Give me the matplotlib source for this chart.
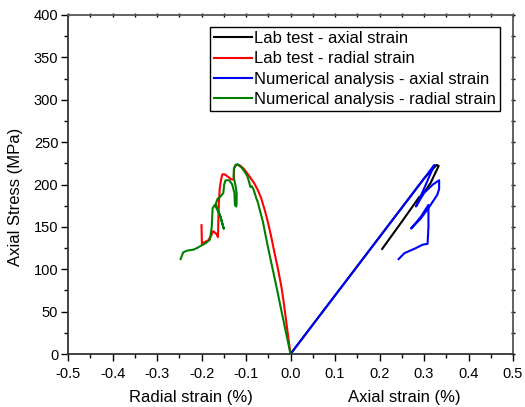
import numpy as np
import matplotlib
matplotlib.use("Agg")
import matplotlib.pyplot as plt
from matplotlib.ticker import MultipleLocator, FormatStrFormatter

plt.rcParams['font.family'] = ['Liberation Sans', 'DejaVu Sans']

# lab test - axial strain (%), stress (MPa)
lab_ax_x = [0, 0.10, 0.20, 0.30, 0.328, 0.333, 0.315, 0.297, 0.289, 0.250, 0.206]
lab_ax_y = [0, 69, 138, 207, 223, 222, 202, 188, 185, 156, 124]

# lab test - radial strain
lab_rad_x = [-0.200, -0.199, -0.197, -0.185, -0.178, -0.174, -0.167, -0.163, -0.162,
             -0.161, -0.159, -0.156, -0.153, -0.148, -0.140, -0.133, -0.127, -0.127,
             -0.122, -0.115, -0.110, -0.104, -0.097, -0.090, -0.081, -0.073, -0.066,
             -0.058, -0.051, -0.044, -0.037, -0.028, -0.020, -0.015, -0.010, -0.005, 0.0]
lab_rad_y = [152, 129, 131, 134, 140, 145, 142, 138, 160,
             178, 195, 206, 212, 212, 209, 206, 206, 219,
             223, 223, 221, 218, 213, 208, 201, 193, 184,
             170, 156, 140, 122, 100, 78, 60, 40, 20, 0]

# numerical analysis - axial strain
num_ax_x = [0, 0.10, 0.20, 0.30, 0.323, 0.300, 0.282, 0.300, 0.320, 0.334, 0.334,
            0.330, 0.315, 0.293, 0.271, 0.293, 0.310, 0.310, 0.308, 0.297, 0.282,
            0.256, 0.243]
num_ax_y = [0, 69, 138, 207, 223, 195, 174, 190, 200, 205, 195,
            188, 176, 160, 148, 162, 176, 150, 130, 129, 125,
            119, 112]

# numerical analysis - radial strain
num_rad_x = [0, -0.008, -0.016, -0.024, -0.031, -0.040, -0.049, -0.056, -0.062,
             -0.069, -0.074, -0.077, -0.083, -0.087, -0.090, -0.093, -0.097, -0.103,
             -0.110, -0.115, -0.119, -0.124, -0.127, -0.128, -0.124, -0.121, -0.121,
             -0.122, -0.125, -0.126, -0.131, -0.138, -0.146, -0.149, -0.151, -0.157,
             -0.164, -0.168, -0.158, -0.150, -0.158, -0.170, -0.175, -0.177, -0.181,
             -0.190, -0.197, -0.210, -0.219, -0.232, -0.241, -0.247]
num_rad_y = [0, 20, 40, 60, 78, 100, 122, 140, 156,
             170, 180, 184, 194, 198, 197, 203, 210, 215,
             220, 222, 224, 223, 219, 209, 200, 190, 178,
             174, 176, 190, 200, 205, 205, 200, 190, 186,
             183, 177, 163, 148, 163, 176, 172, 150, 135,
             131, 129, 125, 123, 122, 120, 112]

fig = plt.figure(figsize=(5.25, 4.07), dpi=100)
ax = fig.add_axes([68/525, 1-354/407, (513-68)/525, (354-15)/407])

lw = 1.5
ax.plot(lab_ax_x, lab_ax_y, color='black', lw=lw, label='Lab test - axial strain')
ax.plot(lab_rad_x, lab_rad_y, color='#ff0000', lw=lw, label='Lab test - radial strain')
ax.plot(num_ax_x, num_ax_y, color='#0000ff', lw=lw, label='Numerical analysis - axial strain')
ax.plot(num_rad_x, num_rad_y, color='#008000', lw=lw, label='Numerical analysis - radial strain')

ax.set_xlim(-0.5, 0.5)
ax.set_ylim(0, 400)
ax.xaxis.set_major_locator(MultipleLocator(0.1))
ax.xaxis.set_minor_locator(MultipleLocator(0.05))
ax.xaxis.set_major_formatter(FormatStrFormatter('%.1f'))
ax.yaxis.set_major_locator(MultipleLocator(50))
ax.yaxis.set_minor_locator(MultipleLocator(25))

for s in ax.spines.values():
    s.set_linewidth(1.3)
    s.set_color('#333333')
ax.spines['top'].set_color('#555555')
ax.spines['right'].set_color('#555555')

ax.tick_params(which='major', direction='out', length=5, width=1, labelsize=10.5, pad=2)
ax.tick_params(axis='x', which='major', pad=4)
ax.tick_params(which='minor', direction='out', length=3, width=1)

# small ticks on top and right
top = ax.secondary_xaxis('top')
top.xaxis.set_major_locator(MultipleLocator(0.05))
top.tick_params(direction='inout', length=3, width=1, labeltop=False)
top.spines['top'].set_visible(False)
right = ax.secondary_yaxis('right')
right.yaxis.set_major_locator(MultipleLocator(25))
right.tick_params(direction='inout', length=3, width=1, labelright=False)
right.spines['right'].set_visible(False)

ax.text(-0.119, 0.463, 'Axial Stress (MPa)', transform=ax.transAxes, rotation=90,
        ha='center', va='center', fontsize=12)
trans = ax.get_xaxis_transform()
ax.text(-0.223, -0.127, 'Radial strain (%)', transform=trans, ha='center', va='center', fontsize=12)
ax.text(0.256, -0.127, 'Axial strain (%)', transform=trans, ha='center', va='center', fontsize=12)

leg = ax.legend(loc='upper right', bbox_to_anchor=(0.971, 0.965), fontsize=12,
                frameon=True, fancybox=False, edgecolor='black', framealpha=1,
                handlelength=2.25, handletextpad=0.15, labelspacing=0.32,
                borderpad=0.25, borderaxespad=0)
leg.get_frame().set_linewidth(1)

fig.savefig('out.png', dpi=100)
